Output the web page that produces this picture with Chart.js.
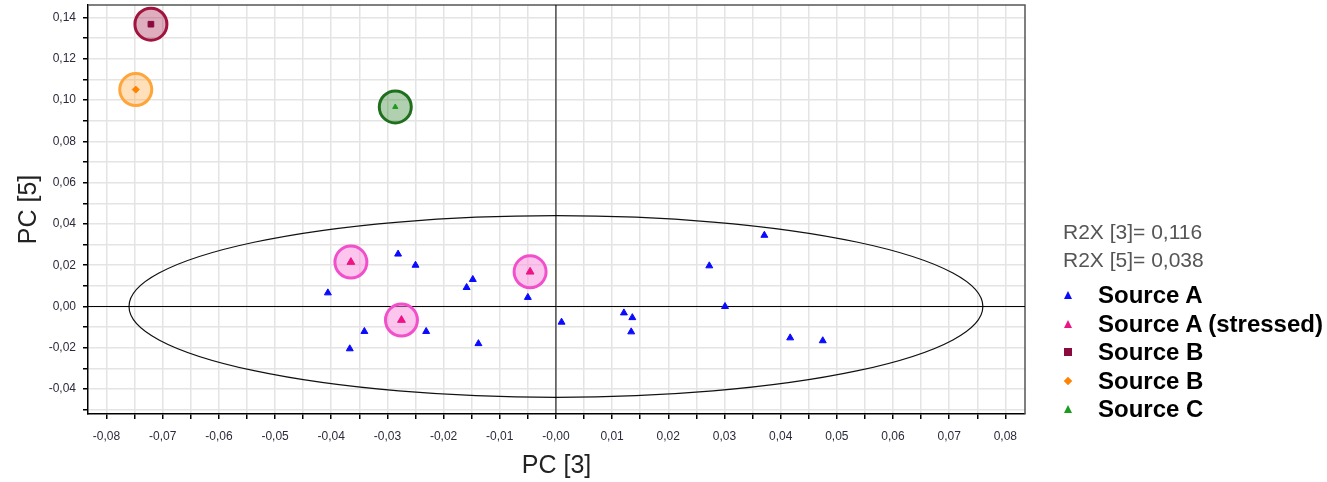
<!DOCTYPE html>
<html>
<head>
<meta charset="utf-8">
<script src="https://cdn.jsdelivr.net/npm/chart.js@4.4.1/dist/chart.umd.min.js"></script>
<style>
    html, body { margin: 0; padding: 0; background: #fff; }
    #wrap { position: relative; width: 1327px; height: 482px; }
    #chart { position: absolute; left: 0; top: 0; }
    #stats { position: absolute; left: 1063px; top: 218px; font: 21px/28px "Liberation Sans", Arial, sans-serif; color: #555; white-space: nowrap; }
    #legend { position: absolute; left: 1098px; top: 281px; font: bold 24px/28.6px "Liberation Sans", Arial, sans-serif; color: #000; white-space: nowrap; }
    .item { position: relative; height: 28.6px; }
    .mk { position: absolute; }
</style>
</head>
<body>
<div id="wrap">
    <canvas id="chart" width="1327" height="482"></canvas>
    <div id="stats"></div>
    <div id="legend"></div>
</div>
<script>
// Scores (PC3 on x, PC5 on y)
const sourceA_x = [-0.0406, -0.0367, -0.0341, -0.0281, -0.0250, -0.0231, -0.0159, -0.0148, -0.0138, -0.0050, 0.0010, 0.0121, 0.0136, 0.0134, 0.0273, 0.0301, 0.0371, 0.0417, 0.0475];
const sourceA_y = [0.0066, -0.0205, -0.0121, 0.0254, 0.0200, -0.0121, 0.0092, 0.0131, -0.0180, 0.0044, -0.0076, -0.0031, -0.0054, -0.0123, 0.0197, 0.0000, 0.0345, -0.0152, -0.0166];
const stressed_x = [-0.0365, -0.0275, -0.0046];
const stressed_y = [0.0215, -0.0066, 0.0168];
const sourceB1_x = [-0.0721];
const sourceB1_y = [0.1368];
const sourceB2_x = [-0.0748];
const sourceB2_y = [0.1051];
const sourceC_x = [-0.0286];
const sourceC_y = [0.0967];

// Legend / series info
const seriesNames = ['Source A', 'Source A (stressed)', 'Source B', 'Source B', 'Source C'];
const seriesColors = ['#0a0aff', '#ee1485', '#8a0a3e', '#ff8200', '#1c9c1c'];
const seriesShapes = ['triangle', 'triangle', 'rect', 'rectRot', 'triangle'];
const statsLines = ['R2X [3]= 0,116', 'R2X [5]= 0,038'];

// Axes
const xMin = -0.0833, xMax = 0.0835;
const yMin = -0.0521, yMax = 0.1461;
const xTickValues = [-0.08, -0.07, -0.06, -0.05, -0.04, -0.03, -0.02, -0.01, 0, 0.01, 0.02, 0.03, 0.04, 0.05, 0.06, 0.07, 0.08];
const xTickLabels = ['-0,08', '-0,07', '-0,06', '-0,05', '-0,04', '-0,03', '-0,02', '-0,01', '-0,00', '0,01', '0,02', '0,03', '0,04', '0,05', '0,06', '0,07', '0,08'];
const yTickValues = [-0.04, -0.02, 0, 0.02, 0.04, 0.06, 0.08, 0.10, 0.12, 0.14];
const yTickLabels = ['-0,04', '-0,02', '0,00', '0,02', '0,04', '0,06', '0,08', '0,10', '0,12', '0,14'];
const xMinorStep = 0.005, yMinorStep = 0.01;

// Hotelling T2 ellipse (centre, semi-axes)
const ellipseCenter = [0, 0];
const ellipseRadii = [0.0760, 0.0440];

function pts(xs, ys) {
    return xs.map((v, i) => ({ x: v, y: ys[i] }));
}

function minorTicks(step) {
    return function(s) {
        var t = [];
        for (var k = Math.ceil(s.min / step - 1e-9); k * step <= s.max + 1e-9; k++) {
            t.push({ value: +(k * step).toFixed(4) });
        }
        s.ticks = t;
    };
}

function tickLabel(values, labels) {
    return function(v) {
        var i = values.findIndex(t => Math.abs(t - v) < 1e-6);
        return i < 0 ? '' : labels[i];
    };
}

// keep the plot box fixed, no extra room for edge labels
function fixBox(prop, size) {
    return function(s) {
        s[prop] = size;
        s.paddingTop = 0; s.paddingBottom = 0;
        s.paddingLeft = 0; s.paddingRight = 0;
    };
}

const ellipsePlugin = {
    id: 'hotelling',
    beforeDatasetsDraw(chart) {
        const { ctx, scales: { x, y } } = chart;
        const cx = x.getPixelForValue(ellipseCenter[0]);
        const cy = y.getPixelForValue(ellipseCenter[1]);
        const rx = x.getPixelForValue(ellipseCenter[0] + ellipseRadii[0]) - cx;
        const ry = cy - y.getPixelForValue(ellipseCenter[1] + ellipseRadii[1]);
        ctx.save();
        ctx.beginPath();
        ctx.ellipse(cx, cy, rx, ry, 0, 0, Math.PI * 2);
        ctx.strokeStyle = '#111';
        ctx.lineWidth = 1.2;
        ctx.stroke();
        ctx.restore();
    }
};

// top and right edges of the plot box
const framePlugin = {
    id: 'frame',
    beforeDatasetsDraw(chart) {
        const { ctx, chartArea: a } = chart;
        ctx.save();
        ctx.strokeStyle = '#555';
        ctx.lineWidth = 1.5;
        ctx.beginPath();
        ctx.moveTo(a.left, a.top);
        ctx.lineTo(a.right, a.top);
        ctx.lineTo(a.right, a.bottom);
        ctx.stroke();
        ctx.restore();
    }
};

function ring(data, border, fill) {
    return {
        data: data, pointStyle: 'circle', pointRadius: 16, borderWidth: 3,
        borderColor: border, backgroundColor: fill, order: 1
    };
}

function marker(i, data, r) {
    return {
        label: seriesNames[i], data: data, pointStyle: seriesShapes[i], pointRadius: r,
        borderWidth: 1, borderColor: seriesColors[i], backgroundColor: seriesColors[i], order: 0
    };
}

Chart.defaults.font.family = '"Liberation Sans", Arial, sans-serif';

const ctx = document.getElementById('chart').getContext('2d');
const chart = new Chart(ctx, {
    type: 'scatter',
    data: {
        datasets: [
            marker(0, pts(sourceA_x, sourceA_y), 4),
            marker(1, pts(stressed_x, stressed_y), 4.5),
            marker(2, pts(sourceB1_x, sourceB1_y), 4),
            marker(3, pts(sourceB2_x, sourceB2_y), 3.5),
            marker(4, pts(sourceC_x, sourceC_y), 3),
            ring(pts(stressed_x, stressed_y), '#f24fcb', 'rgba(250,140,220,0.5)'),
            ring(pts(sourceB1_x, sourceB1_y), '#a0143f', 'rgba(160,20,70,0.35)'),
            ring(pts(sourceB2_x, sourceB2_y), '#ffa53a', 'rgba(255,165,60,0.35)'),
            ring(pts(sourceC_x, sourceC_y), '#1f6f1f', 'rgba(30,120,30,0.35)'),
            // zero lines
            { data: [{ x: 0, y: yMin }, { x: 0, y: yMax }], showLine: true, pointRadius: 0, borderColor: '#000', borderWidth: 1, order: 2 },
            { data: [{ x: xMin, y: 0 }, { x: xMax, y: 0 }], showLine: true, pointRadius: 0, borderColor: '#000', borderWidth: 1, order: 2 }
        ]
    },
    options: {
        responsive: false,
        animation: false,
        events: [],
        layout: { autoPadding: false, padding: { top: 5, right: 302, bottom: 0, left: 0 } },
        plugins: { legend: { display: false }, tooltip: { enabled: false } },
        scales: {
            x: {
                type: 'linear', min: xMin, max: xMax,
                afterBuildTicks: minorTicks(xMinorStep),
                afterFit: fixBox('height', 68),
                ticks: { autoSkip: false, maxRotation: 0, padding: 10, color: '#2b2b3b', font: { size: 12 },
                         callback: tickLabel(xTickValues, xTickLabels) },
                grid: { color: '#e4e4e4', lineWidth: 1.5, tickColor: '#000', tickLength: 5 },
                border: { color: '#000', width: 1.5 },
                title: { display: true, text: 'PC [3]', color: '#222', font: { size: 25 }, padding: { top: 0, bottom: 0.5 } }
            },
            y: {
                type: 'linear', min: yMin, max: yMax,
                afterBuildTicks: minorTicks(yMinorStep),
                afterFit: fixBox('width', 88),
                ticks: { autoSkip: false, padding: 7, color: '#2b2b3b', font: { size: 12 },
                         callback: tickLabel(yTickValues, yTickLabels) },
                grid: { color: '#e4e4e4', lineWidth: 1.5, tickColor: '#000', tickLength: 5 },
                border: { color: '#000', width: 1.5 },
                title: { display: true, text: 'PC [5]', color: '#222', font: { size: 25 }, padding: { top: 14.5, bottom: 0 } }
            }
        }
    },
    plugins: [ellipsePlugin, framePlugin]
});

// Side panel: variance explained + legend
document.getElementById('stats').innerHTML = statsLines.map(s => '<div>' + s + '</div>').join('');

function markerHtml(shape, color) {
    var st = 'left:-34px;';
    if (shape === 'triangle') {
        st += 'top:10px;width:0;height:0;border-left:4px solid transparent;border-right:4px solid transparent;border-bottom:8px solid ' + color + ';';
    } else if (shape === 'rect') {
        st += 'top:10px;width:8px;height:8px;background:' + color + ';';
    } else {
        st += 'left:-33px;top:11px;width:6px;height:6px;background:' + color + ';transform:rotate(45deg);';
    }
    return '<span class="mk" style="' + st + '"></span>';
}

document.getElementById('legend').innerHTML = seriesNames.map((n, i) =>
    '<div class="item">' + markerHtml(seriesShapes[i], seriesColors[i]) + n + '</div>'
).join('');
</script>
</body>
</html>
